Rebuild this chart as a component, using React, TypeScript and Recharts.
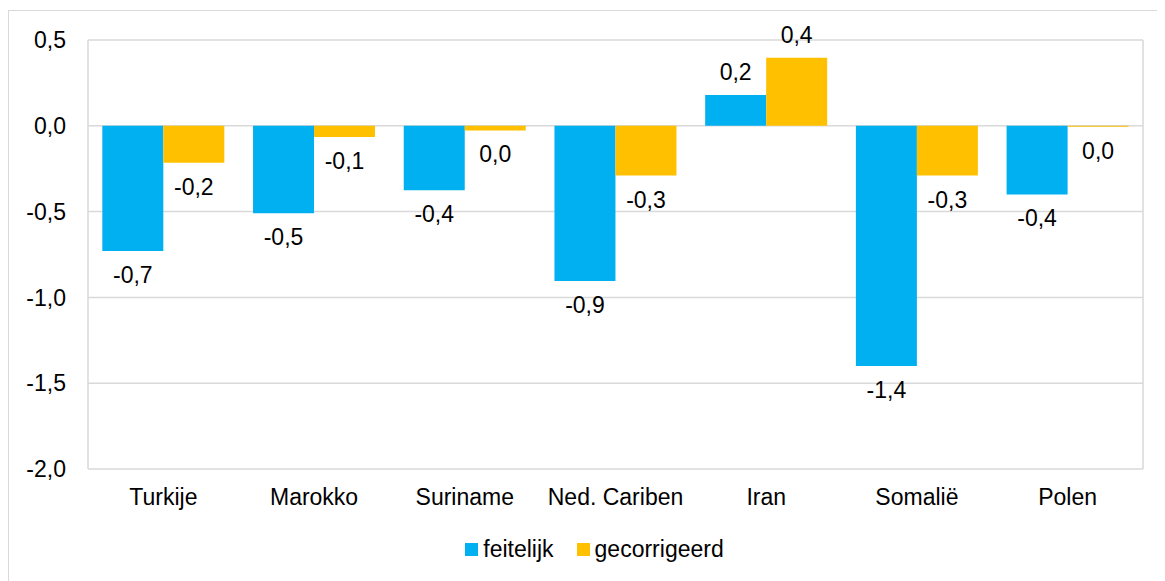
import React from 'react';
import {
  BarChart,
  Bar,
  XAxis,
  YAxis,
  CartesianGrid,
  Legend,
  LabelList,
} from 'recharts';

const COUNTRIES = ['Turkije', 'Marokko', 'Suriname', 'Ned. Cariben', 'Iran', 'Somalië', 'Polen'];
const FEITELIJK = [-0.73, -0.51, -0.375, -0.905, 0.18, -1.4, -0.4];
const GECORRIGEERD = [-0.216, -0.065, -0.027, -0.29, 0.396, -0.29, -0.005];
const Y_TICKS = [-2, -1.5, -1, -0.5, 0, 0.5];

const BLUE = '#00B0F0';
const YELLOW = '#FFC000';
const GRID = '#D9D9D9';
const FONT = '"Liberation Sans", Arial, sans-serif';
const FS = 23;

function fmt(v: number): string {
  const r = Math.round(v * 10) / 10 + 0;
  return r.toFixed(1).replace('.', ',');
}

function ValueLabel(props: any) {
  const { x, y, width, height, value } = props;
  const top = Math.min(y, y + height);
  const bottom = Math.max(y, y + height);
  const cx = x + width / 2;
  const ty = value < 0 ? bottom + 24 : top - 23;
  return (
    <text
      x={cx}
      y={ty}
      textAnchor="middle"
      dominantBaseline="central"
      fontSize={FS}
      fontFamily={FONT}
      fill="#000"
    >
      {fmt(value)}
    </text>
  );
}

function LegendContent() {
  const item = (color: string, label: string, last: boolean) => (
    <span style={{ display: 'inline-flex', alignItems: 'center', marginRight: last ? 0 : 23 }}>
      <span style={{ width: 13, height: 13, background: color, display: 'inline-block', marginRight: 5 }} />
      <span>{label}</span>
    </span>
  );
  return (
    <div
      style={{
        height: 40,
        display: 'flex',
        alignItems: 'center',
        justifyContent: 'center',
        paddingLeft: 18,
        fontSize: FS,
        fontFamily: FONT,
        color: '#000',
      }}
    >
      {item(BLUE, 'feitelijk', false)}
      {item(YELLOW, 'gecorrigeerd', true)}
    </div>
  );
}

export default function App() {
  const data = COUNTRIES.map((c, i) => ({
    name: c,
    feitelijk: FEITELIJK[i],
    gecorrigeerd: GECORRIGEERD[i],
  }));

  return (
    <div
      style={{
        marginTop: 2,
        width: 1153,
        height: 575,
        border: `1px solid ${GRID}`,
        background: '#fff',
      }}
    >
      <BarChart
        width={1153}
        height={575}
        data={data}
        margin={{ top: 29, right: 0, left: 0, bottom: 17 }}
        barCategoryGap="9.5%"
        barGap={0}
      >
        <CartesianGrid vertical={false} stroke={GRID} strokeWidth={1.5} />
        <XAxis
          dataKey="name"
          axisLine={false}
          tickLine={false}
          tickSize={0}
          tickMargin={20}
          height={60}
          interval={0}
          tick={{ fontSize: FS, fontFamily: FONT, fill: '#000' }}
        />
        <YAxis
          domain={[-2, 0.5]}
          ticks={Y_TICKS}
          width={79}
          axisLine={{ stroke: GRID, strokeWidth: 1.5 }}
          tickLine={false}
          tickSize={0}
          tickMargin={22}
          tickFormatter={fmt}
          tick={{ fontSize: FS, fontFamily: FONT, fill: '#000' }}
        />
        <YAxis
          yAxisId="right"
          orientation="right"
          domain={[-2, 0.5]}
          ticks={Y_TICKS}
          width={19}
          tick={false}
          tickLine={false}
          axisLine={{ stroke: GRID, strokeWidth: 1.5 }}
        />
        <Legend verticalAlign="bottom" height={40} content={<LegendContent />} />
        <Bar dataKey="feitelijk" fill={BLUE} isAnimationActive={false}>
          <LabelList dataKey="feitelijk" content={<ValueLabel />} />
        </Bar>
        <Bar dataKey="gecorrigeerd" fill={YELLOW} isAnimationActive={false}>
          <LabelList dataKey="gecorrigeerd" content={<ValueLabel />} />
        </Bar>
      </BarChart>
    </div>
  );
}
